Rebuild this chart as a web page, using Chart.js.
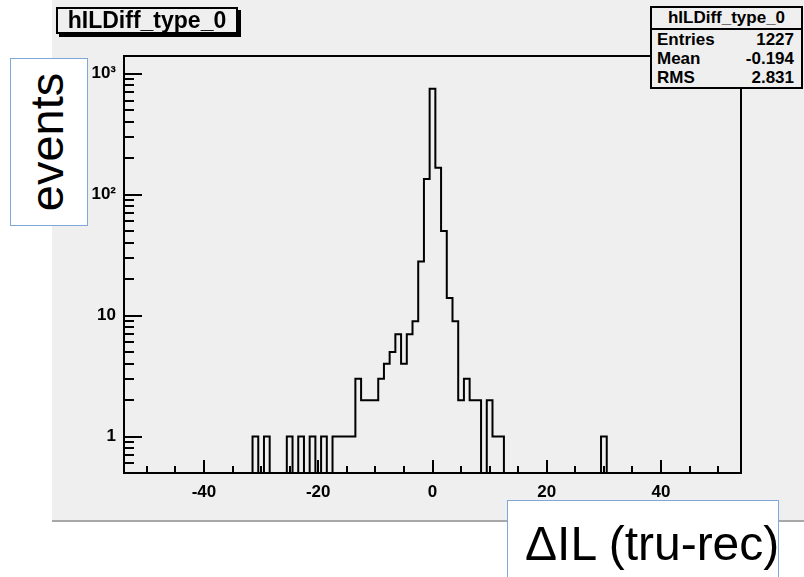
<!DOCTYPE html>
<html>
<head>
<meta charset="utf-8">
<script src="https://cdn.jsdelivr.net/npm/chart.js@4.4.1/dist/chart.umd.min.js"></script>
<style>
  html, body { margin: 0; padding: 0; background: #fff; }
  #wrap { position: relative; width: 804px; height: 577px; overflow: hidden; font-family: "Liberation Sans", Arial, sans-serif; }
  #c { position: absolute; left: 0; top: 0; }
  .box { position: absolute; box-sizing: border-box; }
  #title { left: 56px; top: 7px; width: 182px; height: 27px; border: 2px solid #000; box-shadow: 3px 3px 0 #000;
           background: #efefef; font-weight: bold; font-size: 23px; line-height: 23px; text-align: center; }
  #stats { left: 650px; top: 6px; width: 153px; height: 83px; border: 2px solid #000; background: #efefef;
           font-weight: bold; font-size: 17px; }
  #stats .head { height: 20px; line-height: 20px; text-align: center; border-bottom: 2px solid #000; }
  #stats .row { height: 19px; line-height: 20px; padding: 0 7px 0 5px; display: flex; justify-content: space-between; }
  #ylab { left: 10px; top: 58px; width: 78px; height: 168px; border: 1.5px solid #7fa7d9; background: #fff; }
  #ylab span { position: absolute; left: 50%; top: 50%; transform: translate(-52%, -50%) rotate(-90deg);
               font-size: 47px; white-space: nowrap; }
  #xlab { left: 507px; top: 500px; width: 272px; height: 90px; border: 1.5px solid #7fa7d9; background: #fff;
          font-size: 48px; line-height: 48px; padding: 19px 0 0 17px; text-align: left; white-space: nowrap; }
</style>
</head>
<body>
<div id="wrap">
  <canvas id="c" width="804" height="577"></canvas>
  <div class="box" id="title">hILDiff_type_0</div>
  <div class="box" id="stats">
    <div class="head">hILDiff_type_0</div>
    <div class="row"><span>Entries</span><span>1227</span></div>
    <div class="row"><span>Mean</span><span>-0.194</span></div>
    <div class="row"><span>RMS</span><span>2.831</span></div>
  </div>
  <div class="box" id="ylab"><span>events</span></div>
  <div class="box" id="xlab">ΔIL (tru-rec)</div>
</div>
<script>
// histogram contents (bin width 1, centred on integers), empty bins left out
const binCenter = [-31, -29, -25, -23, -21, -19, -17, -16, -15, -14, -13, -12, -11, -10, -9, -8, -7, -6, -5, -4,
                   -3, -2, -1, 0, 1, 2, 3, 4, 5, 6, 7, 8, 10, 11, 12, 30];
const binCount = [1, 1, 1, 1, 1, 1, 1, 1, 1, 1, 3, 2, 2, 2, 3, 4, 5, 7, 4, 7,
                  9, 28, 135, 750, 167, 50, 14, 9, 2, 3, 2, 2, 2, 1, 1, 1];
const xMin = -54, xMax = 54;
const yMin = 0.5, yMax = 1400;
const xTickLabels = [-40, -20, 0, 20, 40];
const yTickLabels = {1: '1', 10: '10', 100: '10²', 1000: '10³'};

// one point per left bin edge; stepped 'before' keeps each level until the next edge
const pts = [{x: xMin, y: yMin}];
for (let c = -53; c <= 53; c++) {
  const i = binCenter.indexOf(c);
  pts.push({x: c - 0.5, y: i >= 0 ? binCount[i] : yMin});
}
pts.push({x: 53.5, y: yMin});
pts.push({x: xMax, y: yMin});

const PAD = '#efefef';

const rootFrame = {
  id: 'rootFrame',
  beforeDraw(chart) {
    const ctx = chart.ctx;
    ctx.save();
    ctx.fillStyle = '#fff';
    ctx.fillRect(0, 0, 804, 577);
    ctx.fillStyle = PAD;
    ctx.fillRect(52, 0, 752, 521);
    ctx.fillStyle = '#a8a8a8';
    ctx.fillRect(52, 520, 752, 2);
    ctx.restore();
  },
  afterDatasetsDraw(chart) {
    const ctx = chart.ctx;
    const a = chart.chartArea;
    const xs = chart.scales.x, ys = chart.scales.y;
    ctx.save();
    ctx.strokeStyle = '#000';
    ctx.lineWidth = 2;
    ctx.strokeRect(a.left, a.top, a.right - a.left, a.bottom - a.top);
    ctx.beginPath();
    for (let v = -50; v <= 50; v += 5) {
      const px = Math.round(xs.getPixelForValue(v));
      const len = v % 20 === 0 ? 13 : 7;
      ctx.moveTo(px, a.bottom);
      ctx.lineTo(px, a.bottom - len);
    }
    for (let d = 0.1; d <= 1000; d *= 10) {
      for (let m = 1; m <= 9; m++) {
        const v = d * m;
        if (v < yMin || v > yMax) continue;
        const py = Math.round(ys.getPixelForValue(v));
        const len = m === 1 ? 18 : 10;
        ctx.moveTo(a.left, py);
        ctx.lineTo(a.left + len, py);
      }
    }
    ctx.stroke();
    ctx.restore();
  }
};

new Chart(document.getElementById('c'), {
  type: 'line',
  data: {
    datasets: [{
      data: pts,
      stepped: 'before',
      borderColor: '#000',
      borderWidth: 2,
      pointRadius: 0,
      fill: false
    }]
  },
  options: {
    responsive: false,
    animation: false,
    layout: { padding: { top: 56, right: 63, left: 0, bottom: 0 } },
    plugins: { legend: { display: false }, tooltip: { enabled: false } },
    scales: {
      x: {
        type: 'linear', min: xMin, max: xMax,
        grid: { display: false, drawTicks: false },
        border: { display: false },
        afterBuildTicks: s => { s.ticks = xTickLabels.map(v => ({value: v})); },
        afterFit: s => { s.height = 104; },
        ticks: { autoSkip: false, maxRotation: 0, padding: 9, color: '#000',
                 font: { family: 'Liberation Sans', size: 17, weight: 'bold' } }
      },
      y: {
        type: 'logarithmic', min: yMin, max: yMax,
        grid: { display: false, drawTicks: false },
        border: { display: false },
        afterBuildTicks: s => { s.ticks = Object.keys(yTickLabels).map(v => ({value: +v})); },
        afterFit: s => { s.width = 124; },
        ticks: { autoSkip: false, padding: 8, color: '#000',
                 font: { family: 'Liberation Sans', size: 17, weight: 'bold' },
                 callback: v => yTickLabels[v] }
      }
    }
  },
  plugins: [rootFrame]
});
</script>
</body>
</html>
